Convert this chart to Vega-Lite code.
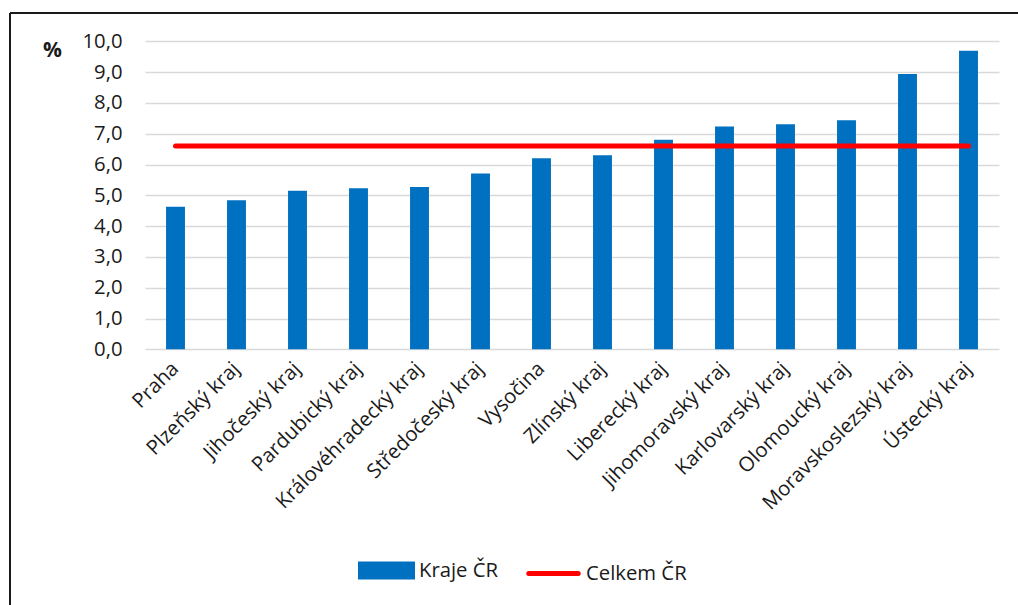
{
  "$schema": "https://vega.github.io/schema/vega-lite/v6.json",
  "width": 1008,
  "height": 592,
  "padding": {"left": 10, "top": 13, "right": 0, "bottom": 0},
  "autosize": {"type": "none"},
  "background": "#ffffff",
  "config": {
    "view": {"stroke": "#1a1a1a", "strokeWidth": 2, "strokeDash": [1008, 1600, 592, 0]},
    "font": "Open Sans"
  },
  "data": {
    "values": [
      {"kraj": "Praha", "podil": 4.63, "celkem": 6.6},
      {"kraj": "Plzeňský kraj", "podil": 4.84, "celkem": 6.6},
      {"kraj": "Jihočeský kraj", "podil": 5.15, "celkem": 6.6},
      {"kraj": "Pardubický kraj", "podil": 5.23, "celkem": 6.6},
      {"kraj": "Královéhradecký kraj", "podil": 5.27, "celkem": 6.6},
      {"kraj": "Středočeský kraj", "podil": 5.71, "celkem": 6.6},
      {"kraj": "Vysočina", "podil": 6.2, "celkem": 6.6},
      {"kraj": "Zlínský kraj", "podil": 6.3, "celkem": 6.6},
      {"kraj": "Liberecký kraj", "podil": 6.8, "celkem": 6.6},
      {"kraj": "Jihomoravský kraj", "podil": 7.23, "celkem": 6.6},
      {"kraj": "Karlovarský kraj", "podil": 7.31, "celkem": 6.6},
      {"kraj": "Olomoucký kraj", "podil": 7.44, "celkem": 6.6},
      {"kraj": "Moravskoslezský kraj", "podil": 8.94, "celkem": 6.6},
      {"kraj": "Ústecký kraj", "podil": 9.69, "celkem": 6.6}
    ]
  },
  "encoding": {
    "x": {
      "field": "kraj",
      "type": "nominal",
      "sort": null,
      "scale": {"range": [135, 989], "paddingInner": 0.69, "paddingOuter": 0.345},
      "axis": {
        "title": null,
        "orient": "bottom",
        "offset": -255.7,
        "domain": false,
        "ticks": false,
        "tickSize": 0,
        "grid": false,
        "labelAngle": -45,
        "labelAlign": "right",
        "labelBaseline": "middle",
        "labelPadding": 16,
        "labelFont": "Open Sans",
        "labelFontSize": 20.3,
        "labelColor": "#1a1a1a",
        "labelOverlap": false,
        "labelBound": false,
        "labelLimit": 400
      }
    }
  },
  "layer": [
    {
      "mark": {"type": "bar"},
      "encoding": {
        "y": {
          "field": "podil",
          "type": "quantitative",
          "scale": {"domain": [0, 10], "range": [336.3, 28.3], "nice": false},
          "axis": {
            "orient": "left",
            "offset": -112,
            "values": [0, 1, 2, 3, 4, 5, 6, 7, 8, 9, 10],
            "labelExpr": "replace(format(datum.value, '.1f'), '.', ',')",
            "domain": false,
            "ticks": false,
            "tickSize": 0,
            "labelPadding": 0,
            "labelFont": "Open Sans",
            "labelFontSize": 20.3,
            "labelColor": "#1a1a1a",
            "grid": true,
            "gridColor": "#d9d9d9",
            "gridWidth": 1.4,
            "title": "%",
            "titleAngle": 0,
            "titleX": -70,
            "titleY": 37,
            "titleAlign": "center",
            "titleBaseline": "middle",
            "titleFont": "Open Sans",
            "titleFontSize": 21,
            "titleFontWeight": "bold",
            "titleColor": "#1a1a1a"
          }
        },
        "color": {
          "datum": "Kraje ČR",
          "scale": {"domain": ["Kraje ČR", "Celkem ČR"], "range": ["#0070C0", "#FF0000"]},
          "legend": {
            "title": null,
            "orient": "none",
            "direction": "horizontal",
            "legendX": 348,
            "legendY": 529,
            "padding": 0,
            "symbolSize": 2704,
            "symbolStrokeWidth": 5,
            "labelFont": "Open Sans",
            "labelFontSize": 20.3,
            "labelColor": "#1a1a1a",
            "labelOffset": 4,
            "columnPadding": 19,
            "encode": {
              "symbols": {
                "update": {
                  "shape": {"signal": "datum.value === 'Kraje ČR' ? 'M-1,-0.25H1V0.25H-1Z' : 'M-0.95,0H0.95'"},
                  "fill": {"signal": "datum.value === 'Kraje ČR' ? '#0070C0' : 'transparent'"},
                  "stroke": {"signal": "datum.value === 'Kraje ČR' ? 'transparent' : '#FF0000'"},
                  "strokeCap": {"value": "round"},
                  "opacity": {"value": 1}
                }
              }
            }
          }
        }
      }
    },
    {
      "mark": {"type": "line", "strokeWidth": 5, "strokeCap": "round"},
      "encoding": {
        "y": {"field": "celkem", "type": "quantitative"},
        "color": {"datum": "Celkem ČR"}
      }
    }
  ]
}
